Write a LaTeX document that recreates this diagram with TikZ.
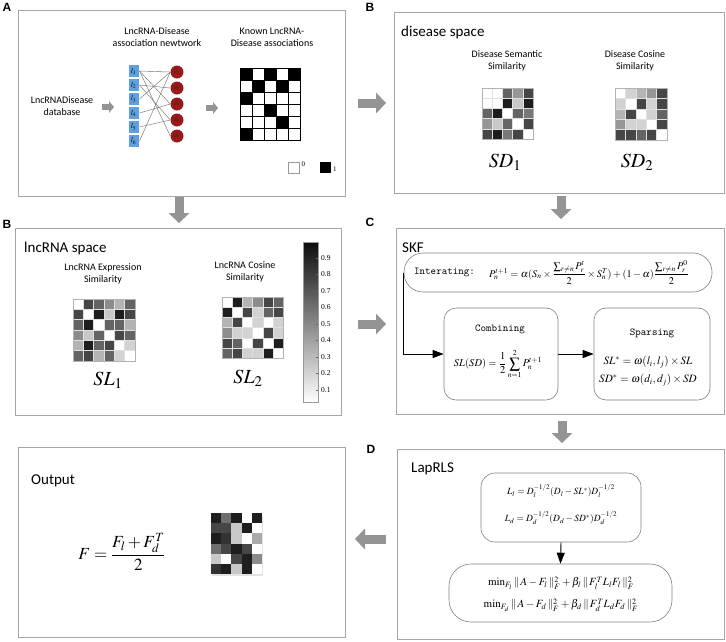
\documentclass[tikz,border=0pt]{standalone}
\usepackage{amsmath}
\usepackage{mathptmx}
\usepackage[no-math]{fontspec}
\setmainfont{Carlito}
\newfontfamily\tnr{Liberation Serif}
\newfontfamily\lsans{Liberation Sans}
\usetikzlibrary{arrows.meta}
\definecolor{lblue}{RGB}{95,160,225}
\definecolor{dred}{RGB}{155,25,25}
\newcommand\gmat[4]{%
  \foreach \rowvals [count=\rr] in {#4} {
    \foreach \v [count=\cc] in \rowvals {
      \definecolor{cellc}{RGB}{\v,\v,\v}
      \fill[cellc] ({#1+(\cc-1)*#3},{#2+(\rr-1)*#3}) rectangle +(#3,#3);
      \draw[black!12, line width=0.5pt] ({#1+(\cc-1)*#3},{#2+(\rr-1)*#3}) rectangle +(#3,#3);
    }
  }
}
\begin{document}
\begin{tikzpicture}[x=1pt,y=-1pt,
  panel/.style={draw=black!35, line width=0.8pt, minimum width=#1, inner sep=0pt, anchor=north west},
  rbox/.style={draw=black!50, line width=0.6pt, inner sep=0pt},
  letter/.style={font=\lsans\bfseries\fontsize{12}{14}\selectfont},
  ptitle/.style={font=\fontsize{15}{18}\selectfont, anchor=west, inner sep=0pt},
  lab/.style={font=\fontsize{10}{12}\selectfont, align=center, inner sep=0pt},
  bigarrow/.style={draw=black!42, line width=9pt, -{Triangle[length=10pt,width=21pt,line width=0pt]}},
  smallarrow/.style={draw=black!42, line width=5.5pt, -{Triangle[length=5pt,width=12pt,line width=0pt]}},
  conn/.style={draw=black, line width=0.9pt, -{Triangle[length=11pt,width=8pt]}},
  lbox/.style={fill=lblue, draw=white, line width=0.5pt, minimum width=11.5pt, minimum height=13pt, inner sep=0pt, font=\fontsize{7.5}{8}\selectfont},
  dcirc/.style={circle, fill=dred, minimum size=13pt, inner sep=0pt, font=\fontsize{6.5}{7}\selectfont, text=black!85},
  edge/.style={draw=black!55, line width=0.45pt},
  mono/.style={font=\ttfamily\fontsize{10.5}{12}\selectfont, inner sep=0pt},
  fml/.style={inner sep=0pt, font=\fontsize{#1}{#1}\selectfont},
]
\useasboundingbox (0,0) rectangle (726,641);

% ---------- panels ----------
\node[panel=327pt, minimum height=186pt] (pA) at (18,10) {};
\node[panel=330pt, minimum height=181pt] (pB) at (394,12) {};
\node[panel=326pt, minimum height=187pt] (pL) at (15,228) {};
\node[panel=328pt, minimum height=186pt] (pC) at (396,228) {};
\node[panel=327pt, minimum height=190pt] (pD) at (397,449) {};
\node[panel=327pt, minimum height=190pt] (pO) at (18,447) {};

\node[letter] (tA) at (7,7) {A};
\node[letter] (tB) at (370,7) {B};
\node[letter] (tB2) at (7,224) {B};
\node[letter] (tC) at (370,222) {C};
\node[letter] (tD) at (371,449) {D};

% ---------- big arrows ----------
\coordinate (a1) at (358,103); \coordinate (a1h) at (386,103);
\coordinate (a2) at (179,197); \coordinate (a2h) at (179,223);
\coordinate (a3) at (561,196); \coordinate (a3h) at (561,219);
\coordinate (a4) at (358,324); \coordinate (a4h) at (386,324);
\coordinate (a5) at (562,421); \coordinate (a5h) at (562,443);
\coordinate (a6) at (386,539); \coordinate (a6h) at (355,539);
\draw[bigarrow] (a1) -- (a1h);
\draw[bigarrow] (a2) -- (a2h);
\draw[bigarrow] (a3) -- (a3h);
\draw[bigarrow] (a4) -- (a4h);
\draw[bigarrow] (a5) -- (a5h);
\draw[bigarrow] (a6) -- (a6h);

% ---------- panel A ----------
\node[lab] (nettitle) at (157,37) {LncRNA-Disease\\association newtwork};
\node[lab] (knowntitle) at (272,37) {Known LncRNA-\\Disease associations};
\node[lab] (db) at (62,106) {LncRNADisease\\database};
\coordinate (s1) at (102,107); \coordinate (s1h) at (114,107);
\coordinate (s2) at (206,108); \coordinate (s2h) at (218,108);
\draw[smallarrow] (s1) -- (s1h);
\draw[smallarrow] (s2) -- (s2h);

\foreach \i/\y in {1/71,2/85,3/99,4/113,5/127,6/141}
  \node[lbox] (l\i) at (133.5,\y) {$l_{\i}$};
\foreach \i/\y in {1/72,2/88,3/104,4/120,5/136}
  \node[dcirc] (d\i) at (177,\y) {$d_{\i}$};
\foreach \a/\b in {1/1,1/3,1/5,2/2,2/4,3/1,4/3,5/4,6/1}
  \draw[edge] (l\a.east) -- (d\b.west);

% association matrix 6 rows x 5 cols
\foreach \r in {1,...,6}
  \foreach \c in {1,...,5}
    \draw[black, line width=0.8pt, fill=white] ({240+(\c-1)*12},{68+(\r-1)*12}) rectangle +(12,12);
\foreach \r/\c in {1/1,1/3,1/5,2/2,2/4,3/1,4/3,5/4,6/1}
  \fill[black] ({240+(\c-1)*12},{68+(\r-1)*12}) rectangle +(12,12);

\node[draw=black!40, line width=0.6pt, minimum width=11pt, minimum height=11pt, inner sep=0pt] (leg0) at (293.5,167.5) {};
\node[font=\tnr\fontsize{7}{8}\selectfont, anchor=north west, inner sep=0pt] (leg0t) at (301.5,161.5) {0};
\node[fill=black, minimum width=11pt, minimum height=11pt, inner sep=0pt] (leg1) at (325,167.5) {};
\node[font=\tnr\fontsize{7}{8}\selectfont, anchor=west, inner sep=0pt] (leg1t) at (333,169) {1};

% ---------- panel B (disease space) ----------
\node[ptitle] (dstitle) at (401,32) {disease space};
\node[lab] (dss) at (507,60.5) {Disease Semantic\\Similarity};
\node[lab] (dcs) at (635,60.5) {Disease Cosine\\Similarity};
\gmat{482}{88}{10.2}{{255,255,100,150,70},{255,255,30,200,30},{100,30,255,100,120},{150,200,100,255,70},{70,30,120,70,255}}
\gmat{615}{88}{10.4}{{255,210,180,150,70},{210,255,70,210,70},{180,70,255,210,100},{150,210,210,255,70},{70,70,100,70,255}}
\draw[black!30, line width=0.6pt] (482,88) rectangle +(51,51);
\draw[black!30, line width=0.6pt] (615,88) rectangle +(52,52);
\node[fml=20] (sd1) at (505,162) {$SD_1$};
\node[fml=20] (sd2) at (637,162) {$SD_2$};

% ---------- panel B (lncRNA space) ----------
\node[ptitle] (lstitle) at (24,248) {lncRNA space};
\node[lab] (les) at (103,274) {LncRNA Expression\\Similarity};
\node[lab] (lcs) at (245,271.5) {LncRNA Cosine\\Similarity};
\gmat{73}{299}{10.3}{{255,70,100,140,180,100},{70,255,30,200,30,70},{100,30,255,100,100,180},{140,200,100,255,70,100},{180,30,100,70,255,210},{100,70,180,100,210,255}}
\gmat{222}{297}{10.2}{{255,30,180,140,70,100},{30,255,70,210,100,70},{180,70,255,210,255,210},{140,210,210,255,70,210},{70,100,255,70,255,30},{100,70,210,210,30,255}}
\draw[black!30, line width=0.6pt] (73,299) rectangle +(61.8,61.8);
\draw[black!30, line width=0.6pt] (222,297) rectangle +(61.2,61.2);
\node[fml=20] (sl1) at (108,380) {$SL_1$};
\node[fml=20] (sl2) at (248,378) {$SL_2$};

% colour bar
\shade[top color=black!95, bottom color=white] (303,242) rectangle (318,402);
\draw[black!40, line width=0.5pt] (303,242) rectangle (318,402);
\foreach \k in {1,...,9} {
  \draw[black!60, line width=0.4pt] (318,{390-(\k-1)*16.5}) -- +(-2,0);
  \node[font=\tnr\fontsize{7.5}{8}\selectfont, anchor=west, inner sep=0pt] (cb\k) at (321,{390-(\k-1)*16.5}) {0.\k};
}

% ---------- panel C (SKF) ----------
\node[ptitle] (skf) at (402,248) {SKF};
\node[rbox, rounded corners=19pt, minimum width=308pt, minimum height=39pt] (iter) at (558,272.5) {};
\node[mono, anchor=west] (itertxt) at (414,272) {Interating:};
\node[fml=10.3, anchor=west] (iterf) at (489,272.5)
  {$P_n^{t+1}=\alpha(S_n\times\dfrac{\sum\nolimits_{r\neq n}P_r^{t}}{2}\times S_n^{T})+(1-\alpha)\dfrac{\sum\nolimits_{r\neq n}P_r^{0}}{2}$};
\node[rbox, rounded corners=12pt, minimum width=114pt, minimum height=92pt] (comb) at (501,354) {};
\node[rbox, rounded corners=12pt, minimum width=116pt, minimum height=92pt] (spars) at (652,354) {};
\node[mono] (combt) at (500,329) {Combining};
\node[fml=10.5] (combf) at (498,364) {$\displaystyle SL(SD)=\frac{1}{2}\sum_{n=1}^{2}P_n^{t+1}$};
\node[mono] (sparst) at (652,333) {Sparsing};
\node[fml=11.2] (sp1) at (648,362) {$SL^{*}=\omega(l_i,l_j)\times SL$};
\node[fml=11.2] (sp2) at (648,380) {$SD^{*}=\omega(d_i,d_j)\times SD$};
\draw[conn] (iter.west) |- (comb.west);
\draw[conn] (comb.east) -- (spars.west);

% ---------- panel D (LapRLS) ----------
\node[ptitle] (lap) at (411,469) {LapRLS};
\node[rbox, rounded corners=14pt, minimum width=160pt, minimum height=69pt] (lap1) at (561,507.5) {};
\node[fml=9.5] (lf1) at (561,491) {$L_l=D_l^{-1/2}(D_l-SL^{*})D_l^{-1/2}$};
\node[fml=9.5] (lf2) at (561,518) {$L_d=D_d^{-1/2}(D_d-SD^{*})D_d^{-1/2}$};
\node[rbox, rounded corners=22pt, minimum width=223pt, minimum height=58pt] (lap2) at (560.5,593) {};
\node[fml=11] (mf1) at (561,583) {$\min_{F_l}\|\,A-F_l\,\|_F^2+\beta_l\,\|\,F_l^{T}L_lF_l\,\|_F^2$};
\node[fml=11] (mf2) at (561,605) {$\min_{F_d}\|\,A-F_d\,\|_F^2+\beta_d\,\|\,F_d^{T}L_dF_d\,\|_F^2$};
\draw[conn] (lap1.south) -- (lap2.north);

% ---------- Output ----------
\node[ptitle] (outt) at (31,481) {Output};
\node[fml=17] (outf) at (122,552) {$\displaystyle F=\frac{F_l+F_d^{T}}{2}$};
\fill[black!18, opacity=0.6] (211.5,515) rectangle (262.5,576);
\foreach \rowvals [count=\rr] in {{30,110,30,255,30},{70,70,200,30,255},{30,50,200,255,170},{110,70,30,70,255},{200,255,70,30,140},{50,30,200,30,255}} {
  \foreach \v [count=\cc] in \rowvals {
    \definecolor{cellc}{RGB}{\v,\v,\v}
    \fill[cellc] ({211+(\cc-1)*10.2},{513+(\rr-1)*10.2}) rectangle +(10.2,10.2);
  }
}
\end{tikzpicture}
\end{document}
